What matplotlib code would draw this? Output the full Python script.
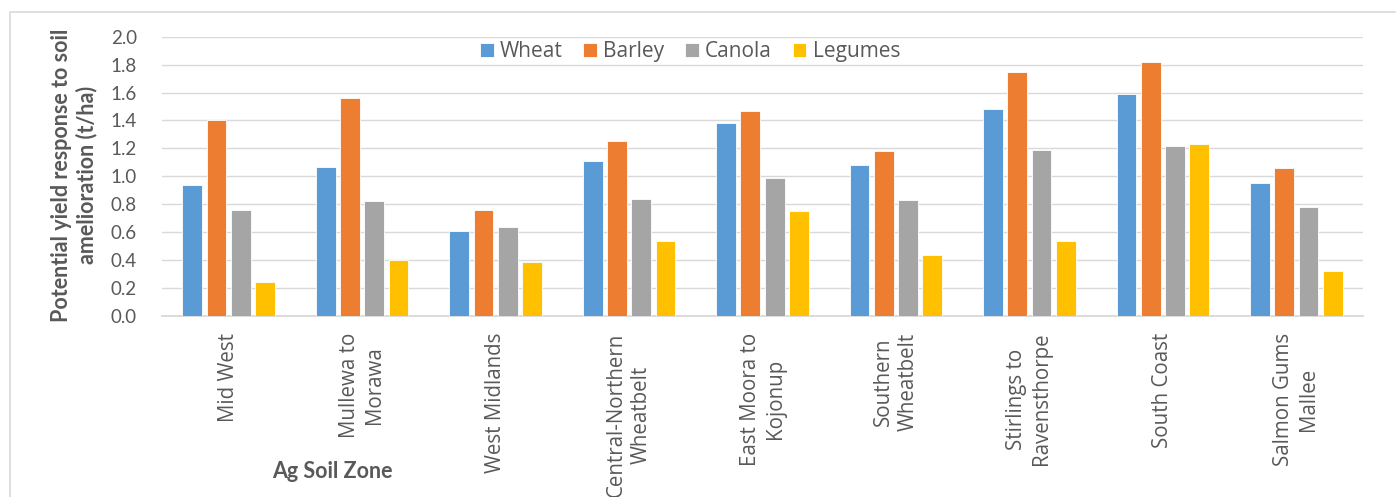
import matplotlib.pyplot as plt
from matplotlib.patches import Rectangle
import numpy as np

zones = ['Mid West', 'Mullewa to\nMorawa', 'West Midlands', 'Central-Northern\nWheatbelt',
         'East Moora to\nKojonup', 'Southern\nWheatbelt', 'Stirlings to\nRavensthorpe',
         'South Coast', 'Salmon Gums\nMallee']

wheat = [0.94, 1.07, 0.61, 1.11, 1.38, 1.08, 1.48, 1.59, 0.95]
barley = [1.40, 1.56, 0.76, 1.25, 1.47, 1.18, 1.75, 1.82, 1.06]
canola = [0.76, 0.82, 0.64, 0.84, 0.99, 0.83, 1.19, 1.22, 0.78]
legumes = [0.24, 0.40, 0.39, 0.54, 0.75, 0.44, 0.54, 1.23, 0.32]

series = {'Wheat': wheat, 'Barley': barley, 'Canola': canola, 'Legumes': legumes}
colors = ['#5B9BD5', '#ED7D31', '#A5A5A5', '#FFC000']
text_color = '#595959'
grid_color = '#D9D9D9'

W, H = 1396, 497
fig = plt.figure(figsize=(W / 100, H / 100), dpi=100)
ax = fig.add_axes([162 / W, 1 - 316 / H, (1363 - 162) / W, (316 - 36.7) / H])

# outer chart frame, runs off the right and bottom edges
fig.patches.append(Rectangle((10 / W, -0.2), 1.2, 1.2 - 12 / H, transform=fig.transFigure,
                             fill=False, edgecolor=grid_color, lw=1.2))

x = np.arange(len(zones))
step = 0.182
width = 0.148
handles = []
for i, (name, values) in enumerate(series.items()):
    rects = ax.bar(x + (i - 1.5) * step, values, width, color=colors[i], edgecolor='white',
                   linewidth=0.6, label=name, zorder=3)
    handles.append(rects)

ax.set_xlim(-0.5, len(zones) - 0.5)
ax.set_ylim(0, 2.0)
ax.set_yticks(np.arange(0, 2.01, 0.2))
ax.set_yticklabels([f'{v:.1f}' for v in np.arange(0, 2.01, 0.2)], family='Lato',
                   fontsize=13.5, color=text_color)
ax.set_xticks(x)
ax.set_xticklabels(zones, rotation=90, family='Open Sans', fontsize=14.8, color=text_color,
                   linespacing=1.25, ha='center', va='top', multialignment='center')
ax.tick_params(axis='both', length=0)
ax.tick_params(axis='y', pad=18)
ax.tick_params(axis='x', pad=12)

ax.grid(axis='y', color=grid_color, lw=1.0, zorder=0)
ax.set_axisbelow(True)
for side in ['top', 'right', 'left']:
    ax.spines[side].set_visible(False)
ax.spines['bottom'].set_color(grid_color)
ax.spines['bottom'].set_linewidth(1.3)

ax.set_ylabel('Potential yield response to soil\namelioration (t/ha)', family='Lato',
              fontsize=15.5, fontweight='bold', color=text_color, linespacing=1.2)
ax.yaxis.set_label_coords(-0.054, 0.505)

fig.text(332 / W, 1 - 471 / H, 'Ag Soil Zone', family='Lato', fontsize=15.5, fontweight='bold',
         color=text_color, ha='center', va='center')

fig.legend(handles=handles, labels=list(series.keys()), loc='center', ncol=4,
           bbox_to_anchor=(690 / W, 1 - 51.7 / H), frameon=False,
           prop={'family': 'Open Sans', 'size': 15}, labelcolor=text_color,
           handlelength=0.65, handleheight=0.65, handletextpad=0.3, columnspacing=1.0)

fig.savefig('out.png', dpi=100)
